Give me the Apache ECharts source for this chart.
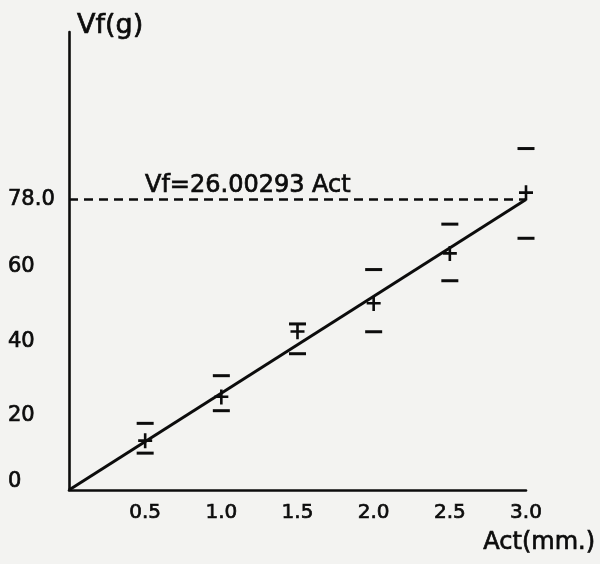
<!DOCTYPE html>
<html>
<head>
<meta charset="utf-8">
<script src="https://cdn.jsdelivr.net/npm/echarts@6/dist/echarts.min.js"></script>
<style>
  html, body { margin: 0; padding: 0; background: #f3f3f1; }
  #chart { width: 600px; height: 564px; }
</style>
</head>
<body>
<div id="chart"></div>
<script>
// Actuation distance (mm) and measured force (g)
const act = [0.5, 1.0, 1.5, 2.0, 2.5, 3.0];
const vfMean = [13.2, 25.0, 42.5, 50.1, 63.5, 79.8];
const vfUpper = [17.9, 30.7, 44.6, 59.2, 71.4, 91.7];
const vfLower = [9.9, 21.3, 36.6, 42.5, 56.2, 67.6];

// Least-squares fit through the origin: Vf = k * Act
const slope = 26.00293;
const fitX = [0, 3.0];
const refLevel = 78.0;

const xTicks = [0.5, 1.0, 1.5, 2.0, 2.5, 3.0];
const yTicks = [0, 20, 40, 60, 78];

const ink = '#0c0c0c';
const font = 'DejaVu Sans';
// slightly heavier strokes for all lettering
const heavy = { textBorderColor: ink, textBorderWidth: 0.7 };

const plusPath = 'path://M0,6h14v2.6h-14z M5.7,0h2.6v15h-2.6z';
const dashPath = 'path://M0,0h16v3h-16z';

const pairs = (ys) => act.map((x, i) => [x, ys[i]]);

const chart = echarts.init(document.getElementById('chart'));
chart.setOption({
  backgroundColor: '#f3f3f1',
  animation: false,
  grid: { left: 69, right: 74, top: 32, bottom: 74, containLabel: false, outerBoundsMode: 'none' },
  xAxis: {
    type: 'value', min: 0, max: 3.0, interval: 0.5,
    name: 'Act(mm.)', nameLocation: 'end', nameGap: 69,
    nameTextStyle: Object.assign({ fontFamily: font, fontSize: 24, color: ink, align: 'right', verticalAlign: 'top', padding: [41, 0, 0, 0] }, heavy),
    axisLine: { lineStyle: { color: ink, width: 2.6 } },
    axisTick: { show: false },
    splitLine: { show: false },
    axisLabel: Object.assign({
      customValues: xTicks, margin: 13,
      fontFamily: font, fontSize: 20, color: ink,
      formatter: (v) => v.toFixed(1)
    }, heavy)
  },
  yAxis: {
    type: 'value', min: 0, max: 123,
    name: 'Vf(g)', nameLocation: 'end', nameGap: 6,
    nameTextStyle: Object.assign({ fontFamily: font, fontSize: 27, color: ink, align: 'left', verticalAlign: 'middle', padding: [0, 0, 0, 8] }, heavy),
    axisLine: { lineStyle: { color: ink, width: 2.6 } },
    axisTick: { show: false },
    splitLine: { show: false },
    axisLabel: Object.assign({
      customValues: yTicks, margin: 61, align: 'left',
      fontFamily: font, fontSize: 21, color: ink,
      formatter: (v) => v === 0 ? '{z|0}' : (v === 78 ? '78.0' : String(v)),
      rich: { z: Object.assign({ fontFamily: font, fontSize: 21, color: ink, padding: [0, 0, 16, 0] }, heavy) }
    }, heavy)
  },
  series: [
    {
      name: 'fit', type: 'line',
      data: fitX.map((x) => [x, slope * x]),
      symbol: 'none',
      lineStyle: { color: ink, width: 3 },
      z: 3,
      markLine: {
        silent: true,
        symbol: 'none',
        data: [{ yAxis: refLevel }],
        lineStyle: { color: ink, width: 2.5, type: [9, 6] },
        label: Object.assign({
          position: 'insideStartTop',
          formatter: 'Vf=26.00293 Act',
          fontFamily: font, fontSize: 24, color: ink,
          padding: [0, 0, 0, 74], distance: 2
        }, heavy)
      }
    },
    {
      name: 'mean', type: 'scatter', data: pairs(vfMean),
      symbol: plusPath, symbolSize: [14, 15],
      itemStyle: { color: ink, opacity: 1 }, z: 4
    },
    {
      name: 'upper', type: 'scatter', data: pairs(vfUpper),
      symbol: dashPath, symbolSize: [17, 3],
      itemStyle: { color: ink, opacity: 1 }, z: 4
    },
    {
      name: 'lower', type: 'scatter', data: pairs(vfLower),
      symbol: dashPath, symbolSize: [17, 3],
      itemStyle: { color: ink, opacity: 1 }, z: 4
    }
  ]
});
</script>
</body>
</html>
